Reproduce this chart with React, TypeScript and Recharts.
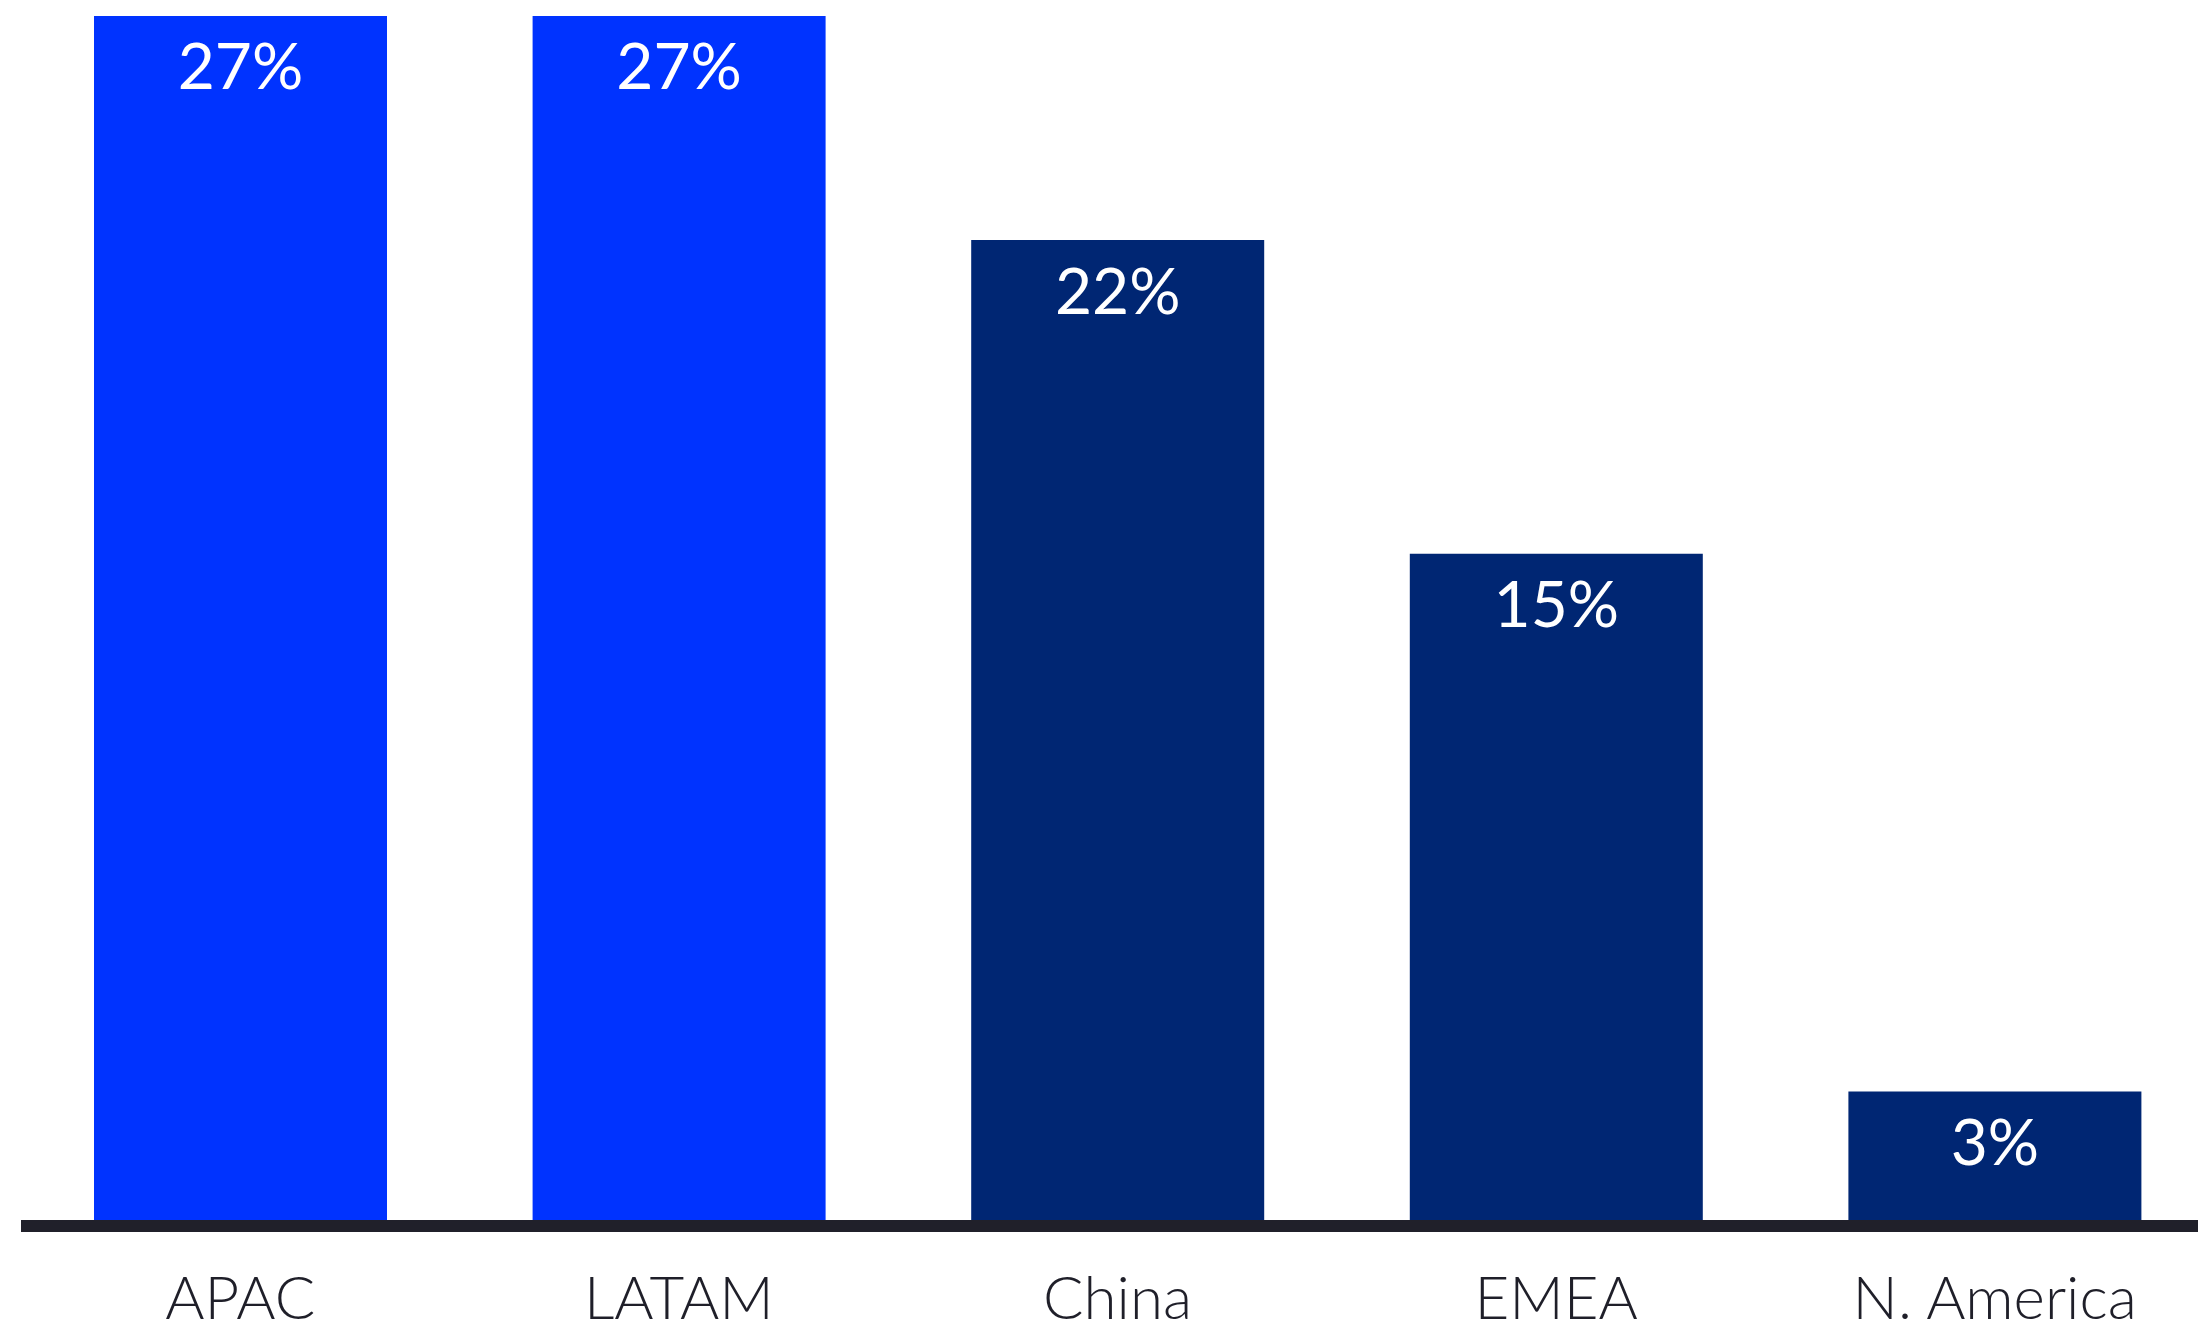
import React from 'react';
import { BarChart, Bar, XAxis, YAxis, Cell, LabelList, ReferenceLine } from 'recharts';

const regions = ['APAC', 'LATAM', 'China', 'EMEA', 'N. America'];
const shares = [27, 27, 22, 15, 3];
const barColors = ['#0033ff', '#0033ff', '#002673', '#002673', '#002673'];

const data = regions.map((region, i) => ({ region, share: shares[i] }));

const FONT = 'Lato, "Open Sans", sans-serif';

const RegionTick = (props: any) => {
  const { x, y, payload } = props;
  return (
    <text x={x} y={y + 93} textAnchor="middle" fill="#1f1f29" fontSize={60} fontFamily={FONT} fontWeight={300}>
      {payload.value}
    </text>
  );
};

const App: React.FC = () => {
  return (
    <div style={{ position: 'absolute', left: 0, top: 0, width: 2198, height: 1332, overflow: 'hidden', background: '#fff' }}>
      <BarChart
        width={2214}
        height={1332}
        data={data}
        margin={{ top: 16, right: 0, left: 21, bottom: 0 }}
        barSize={293}
      >
        <XAxis
          dataKey="region"
          axisLine={false}
          tickLine={false}
          tickSize={0}
          tickMargin={0}
          height={106}
          interval={0}
          tick={<RegionTick />}
        />
        <YAxis hide domain={[0, 27]} />
        <Bar dataKey="share" isAnimationActive={false}>
          {data.map((d, i) => (
            <Cell key={d.region} fill={barColors[i]} />
          ))}
          <LabelList
            dataKey="share"
            position="insideTop"
            offset={28}
            formatter={(v: any) => `${v}%`}
            fill="#ffffff"
            fontSize={64}
            fontFamily={FONT}
            fontWeight={400}
          />
        </Bar>
        <ReferenceLine y={0} stroke="#20202a" strokeWidth={12} />
      </BarChart>
    </div>
  );
};

export default App;
